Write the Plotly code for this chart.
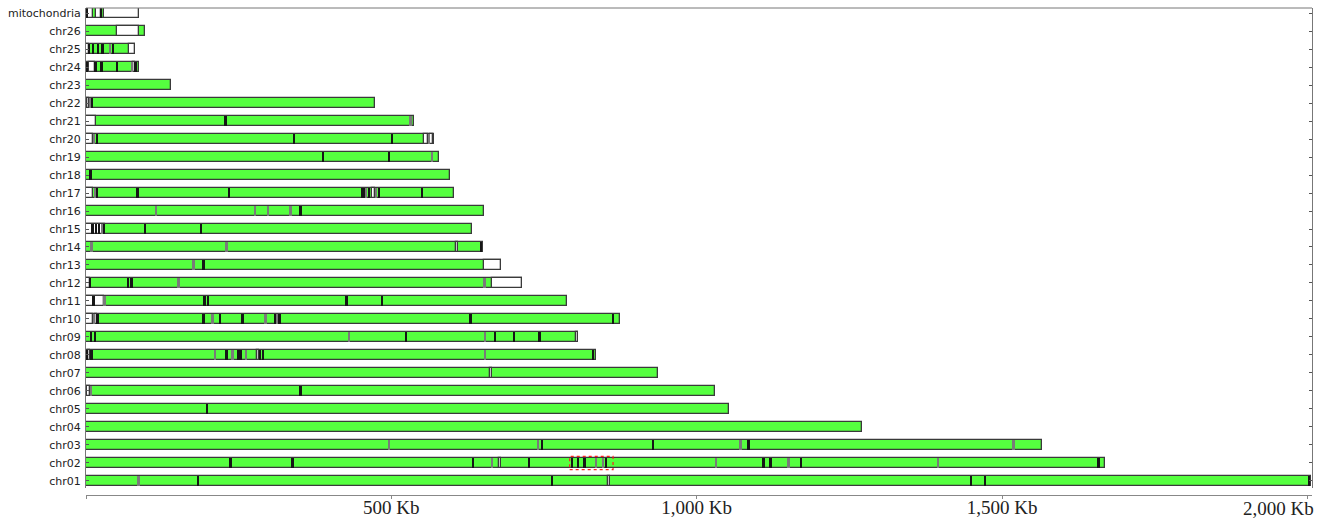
import plotly.graph_objects as go

# Chromosomes from bottom to top
chromosomes = ["chr01", "chr02", "chr03", "chr04", "chr05", "chr06", "chr07", "chr08",
               "chr09", "chr10", "chr11", "chr12", "chr13", "chr14", "chr15", "chr16",
               "chr17", "chr18", "chr19", "chr20", "chr21", "chr22", "chr23", "chr24",
               "chr25", "chr26", "mitochondria"]

# Total assembled length of each chromosome (Kb)
lengths_kb = [2006.0, 1668.9, 1564.6, 1270.5, 1052.9, 1030.6, 936.7, 835.8,
              805.7, 874.0, 788.4, 714.6, 679.2, 650.2, 632.2, 650.9,
              602.8, 596.0, 578.8, 570.0, 537.5, 474.0, 138.6, 86.3,
              79.7, 97.0, 86.0]

# Uncovered regions (white), start/end in Kb
white_chrom = ["chr01", "chr02", "chr06", "chr07", "chr08", "chr08", "chr09",
               "chr10", "chr10", "chr11", "chr12", "chr12", "chr13", "chr14",
               "chr15", "chr17", "chr17", "chr20", "chr20", "chr20", "chr21",
               "chr22", "chr24", "chr24", "chr25", "chr25", "chr26",
               "mitochondria", "mitochondria", "mitochondria"]
white_start = [854.0, 675.5, 1.0, 661.2, 3.0, 279.2, 801.6,
               0.0, 14.5, 0.0, 0.0, 664.8, 650.9, 605.2,
               0.0, 0.0, 467.6, 0.0, 553.7, 563.5, 0.0,
               1.0, 5.0, 76.5, 0.0, 69.9, 50.7,
               0.0, 16.4, 29.5]
white_end = [857.6, 679.5, 6.5, 664.5, 7.0, 283.5, 805.7,
             12.0, 18.0, 30.0, 6.0, 714.6, 679.2, 608.5,
             30.3, 12.0, 473.0, 12.0, 560.5, 567.5, 15.7,
             5.0, 15.5, 80.5, 5.4, 79.7, 87.4,
             11.5, 24.5, 86.0]

# Contig junctions drawn as dark marks (Kb)
dark_chrom = (["chr01"] * 5 + ["chr02"] * 12 + ["chr03"] * 3 + ["chr05"] + ["chr06"]
              + ["chr08"] * 8 + ["chr09"] * 6 + ["chr10"] * 8 + ["chr11"] * 5
              + ["chr12"] * 3 + ["chr13"] + ["chr14"] + ["chr15"] * 6 + ["chr16"]
              + ["chr17"] * 8 + ["chr18"] + ["chr19"] * 2 + ["chr20"] * 3 + ["chr21"]
              + ["chr22"] + ["chr24"] * 5 + ["chr25"] * 5 + ["mitochondria"] * 2)
dark_pos = ([183.3, 763.8, 1449.6, 1473.0, 2003.5]
            + [236.8, 338.3, 633.9, 725.5, 796.6, 805.7, 816.7, 852.2, 1109.7, 1121.1, 1171.4, 1658.4]
            + [747.5, 928.5, 1085.0]
            + [198.5]
            + [351.9]
            + [1.5, 9.3, 230.3, 249.2, 253.2, 285.8, 290.1, 830.3]
            + [8.2, 14.7, 524.9, 670.5, 701.6, 743.0]
            + [19.1, 192.6, 219.8, 256.5, 309.8, 317.0, 630.1, 863.0]
            + [12.6, 194.3, 199.7, 426.7, 485.6]
            + [6.9, 68.7, 74.8]
            + [192.6]
            + [646.9]
            + [10.9, 16.4, 21.3, 30.3, 96.6, 188.2]
            + [351.9]
            + [18.4, 84.5, 234.5, 452.9, 455.5, 463.7, 480.1, 551.0]
            + [7.5]
            + [389.0, 496.4]
            + [18.0, 340.9, 501.0]
            + [228.6]
            + [9.8]
            + [1.0, 15.9, 25.7, 50.7, 81.3]
            + [5.4, 11.5, 19.6, 27.3, 44.2]
            + [1.5, 24.5])

# Short gapped / low-quality joins drawn in gray (Kb)
gray_chrom = (["chr01"] + ["chr02"] * 6 + ["chr03"] * 4 + ["chr06"] + ["chr08"] * 4
              + ["chr09"] * 2 + ["chr10"] * 4 + ["chr11"] + ["chr12"] * 2 + ["chr13"]
              + ["chr14"] * 2 + ["chr15"] + ["chr16"] * 4 + ["chr17"] * 3 + ["chr19"]
              + ["chr20"] * 2 + ["chr21"] + ["chr22"] + ["chr24"] + ["chr25"])
gray_pos = ([86.3]
            + [665.6, 835.8, 846.6, 1032.2, 1150.6, 1396.0]
            + [496.4, 740.3, 1072.0, 1519.3]
            + [8.5]
            + [211.1, 240.1, 261.9, 654.2]
            + [431.0, 654.2]
            + [13.6, 207.4, 294.1, 312.4]
            + [30.9]
            + [151.7, 652.9]
            + [176.3]
            + [9.3, 230.3]
            + [26.2]
            + [114.6, 276.6, 298.0, 335.5]
            + [15.1, 459.4, 475.8]
            + [567.4]
            + [13.6, 562.0]
            + [532.0]
            + [6.5]
            + [75.3]
            + [40.1])

# Highlighted window on chr02 (Kb)
highlight_chrom = "chr02"
highlight_start_kb = 792.0
highlight_end_kb = 863.0

# Scale ticks (Kb) and their labels
tick_vals = [0, 500, 1000, 1500, 2000]
tick_text = ["", "500 Kb", "1,000 Kb", "1,500 Kb", "2,000 Kb"]

GREEN = "#55ff3f"
OUTLINE = "#3a3a3a"
DARK = "#161616"
GRAY = "#7a7a7a"
BAR_W = 0.56
MARK_KB = 3.0
SERIF = dict(family="Liberation Serif", size=19, color="#222222")

fig = go.Figure()

# Full chromosome bars
fig.add_trace(go.Bar(
    y=chromosomes, x=lengths_kb, base=[0] * len(chromosomes), orientation="h",
    width=BAR_W, marker=dict(color=GREEN, line=dict(color=OUTLINE, width=1.3)),
    hoverinfo="skip", showlegend=False))

# Uncovered spans
fig.add_trace(go.Bar(
    y=white_chrom, x=[e - s for s, e in zip(white_start, white_end)], base=white_start,
    orientation="h", width=BAR_W,
    marker=dict(color="#ffffff", line=dict(color=OUTLINE, width=1.3)),
    hoverinfo="skip", showlegend=False))

# Junction marks
fig.add_trace(go.Bar(
    y=gray_chrom, x=[MARK_KB] * len(gray_pos), base=[p - MARK_KB / 2 for p in gray_pos],
    orientation="h", width=BAR_W - 0.04,
    marker=dict(color=GRAY, line=dict(width=0)),
    hoverinfo="skip", showlegend=False))
fig.add_trace(go.Bar(
    y=dark_chrom, x=[MARK_KB] * len(dark_pos), base=[p - MARK_KB / 2 for p in dark_pos],
    orientation="h", width=BAR_W - 0.04,
    marker=dict(color=DARK, line=dict(width=0)),
    hoverinfo="skip", showlegend=False))

# Red dashed box around the highlighted window
hi = chromosomes.index(highlight_chrom)
fig.add_shape(type="rect", xref="x", yref="y",
              x0=highlight_start_kb, x1=highlight_end_kb, y0=hi - 0.37, y1=hi + 0.37,
              line=dict(color="#ff2020", width=1.2, dash="dot"), fillcolor="rgba(0,0,0,0)")

# Top border of the frame
fig.add_shape(type="line", xref="paper", yref="paper", x0=0, x1=1, y0=1, y1=1,
              line=dict(color="#777777", width=1))

# Last scale label sits flush with the right edge of the frame
fig.add_annotation(x=tick_vals[-1], y=0, xref="x", yref="paper",
                   text=tick_text[-1], showarrow=False, xanchor="right", yanchor="top",
                   xshift=9, yshift=-1, font=SERIF)
axis_text = tick_text[:-1] + [""]

fig.update_layout(
    width=1324, height=519,
    margin=dict(l=86, r=12, t=8, b=24),
    paper_bgcolor="white", plot_bgcolor="white",
    barmode="overlay", bargap=0,
    xaxis=dict(range=[0, 2007.5], anchor="free", position=0, automargin=False,
               showline=True, linecolor="#888888", linewidth=1,
               ticks="outside", ticklen=3, tickcolor="#888888",
               tickvals=tick_vals, ticktext=axis_text, tickfont=SERIF,
               ticklabelstandoff=-8, showgrid=False, zeroline=False),
    xaxis2=dict(range=[0, 2007.5], overlaying="x", anchor="free", position=0,
                automargin=False, showline=False, ticks="inside", ticklen=3,
                tickcolor="#888888", tickvals=tick_vals, showticklabels=False,
                showgrid=False, zeroline=False),
    yaxis=dict(type="category", categoryorder="array", categoryarray=chromosomes,
               range=[-0.389, 26.278], domain=[0.0144, 1], automargin=False,
               showline=True, linecolor="#777777", linewidth=1, mirror="ticks",
               ticks="inside", ticklen=3, tickcolor="#555555",
               tickfont=dict(family="DejaVu Sans", size=11, color="#222222"),
               ticklabelstandoff=2, showgrid=False, zeroline=False),
)

fig.write_html("out.html")
